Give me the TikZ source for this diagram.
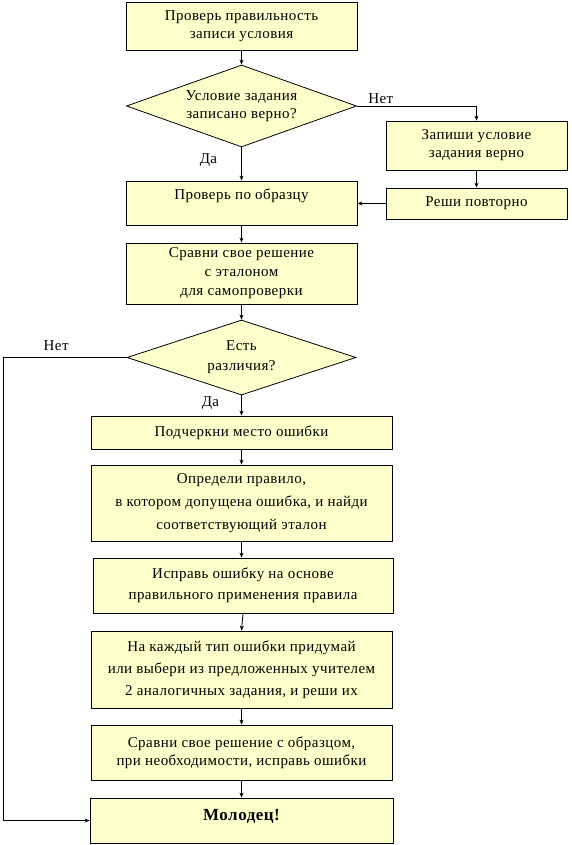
\documentclass[tikz,border=0pt]{standalone}
\usepackage{fontspec}
\setmainfont[LetterSpace=3]{Liberation Serif}
\usepackage{xcolor}
\usetikzlibrary{shapes.geometric, arrows.meta}
\definecolor{boxfill}{HTML}{FFFFCC}

\tikzset{
    blok/.style={draw, fill=boxfill, rectangle, inner sep=0pt, align=center,
        font=\fontsize{15}{18}\selectfont},
    romb/.style={draw, fill=boxfill, diamond, aspect=2.9, inner sep=0pt, align=center,
        font=\fontsize{15}{18}\selectfont},
    strelka/.style={-{Stealth[length=5pt, width=4pt]}},
    metka/.style={font=\fontsize{15}{17}\selectfont, inner sep=2pt}
}

\begin{document}
\begin{tikzpicture}[x=1pt, y=-1pt, line width=0.8pt]

    \useasboundingbox (0,0) rectangle (572,845);

    % 1. Upper part
    \node[blok, minimum width=231pt, minimum height=48pt] (b1) at (241.5,26)
        {Проверь правильность\\записи условия};
    \node[romb, minimum width=230pt, minimum height=82pt] (d1) at (241.5,106)
        {Условие задания\\записано верно?};
    \node[blok, minimum width=231pt, minimum height=44pt, text height=9pt, text depth=17pt] (b2) at (241.5,203)
        {Проверь по образцу};

    % 2. Right branch
    \node[blok, minimum width=181pt, minimum height=49pt] (r1) at (476.5,145.5)
        {Запиши условие\\задания верно};
    \node[blok, minimum width=181pt, minimum height=31pt] (r2) at (476.5,203.5)
        {Реши повторно};

    % 3. Self check
    \node[blok, minimum width=231pt, minimum height=61pt] (b3) at (241.5,273.5)
        {Сравни свое решение\\[1pt]с эталоном\\[1pt]для самопроверки};
    \node[romb, minimum width=229pt, minimum height=75pt] (d2) at (241.5,357.5)
        {Есть\\[2pt]различия?};

    % 4. Work on errors
    \node[blok, minimum width=301pt, minimum height=33pt] (b4) at (241.5,432.5)
        {Подчеркни место ошибки};
    \node[blok, minimum width=301pt, minimum height=76pt] (b5) at (241.5,503)
        {Определи правило,\\[5pt]в котором допущена ошибка, и найди\\[5pt]соответствующий эталон};
    \node[blok, minimum width=300pt, minimum height=55pt] (b6) at (243,585.5)
        {Исправь ошибку на основе\\[3pt]правильного применения правила};
    \node[blok, minimum width=301pt, minimum height=77pt] (b7) at (241.5,669.5)
        {На каждый тип ошибки придумай\\[4pt]или выбери из предложенных учителем\\[4pt]2 аналогичных задания, и реши их};
    \node[blok, minimum width=301pt, minimum height=55pt] (b8) at (241.5,752.5)
        {Сравни свое решение с образцом,\\при необходимости, исправь ошибки};
    \node[blok, minimum width=303pt, minimum height=45pt, text height=12pt, text depth=12pt,
        font=\fontsize{17}{19}\selectfont\bfseries] (b9) at (241.5,820.5)
        {Молодец!};

    % 5. Connectors
    \foreach \a/\b in {b1/d1, r1/r2, b2/b3, b3/d2, b4/b5, b6/b7, b7/b8, b8/b9} {
        \draw[strelka] (\a.south) -- (\b.north);
    }
    \draw[strelka] (b5.south) -- (b5.south |- b6.north);
    \draw[strelka] (d1.south) -- node[metka, left=22pt, pos=0.4] {Да} (b2.north);
    \draw[strelka] (d2.south) -- node[metka, left=20pt, pos=0.4] {Да} (b4.north);
    \draw[strelka] (d1.east) -| node[metka, above, pos=0.1] {Нет} (r1.north);
    \draw[strelka] (r2.west) -- (b2.east |- r2.west);

    % 6. Left return line
    \coordinate (ugol) at (3,357.5);
    \draw[strelka] (d2.west) -- node[metka, above=4pt, pos=0.57] {Нет} (ugol) |- (b9.west);

\end{tikzpicture}
\end{document}
